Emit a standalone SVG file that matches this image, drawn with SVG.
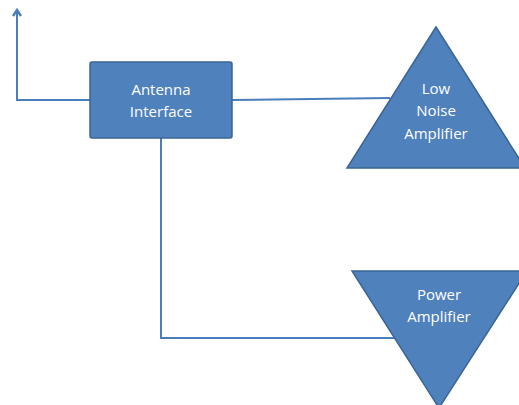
<svg xmlns="http://www.w3.org/2000/svg" width="519" height="405" viewBox="0 0 519 405">
<style>
.shape{fill:#4F81BD;stroke:#3A6595;stroke-width:1.5}
.conn{fill:none;stroke:#4A7EBB;stroke-width:2}
.lbl{font-family:"Open Sans","Liberation Sans",sans-serif;font-size:15px;fill:#FFFFFF;text-anchor:middle}
</style>
<defs>
<marker id="arr" markerWidth="10" markerHeight="10" refX="5" refY="5" orient="auto" markerUnits="userSpaceOnUse">
<path d="M1,1 L7,5 L1,9" fill="none" stroke="#4A7EBB" stroke-width="2.5"/>
</marker>
</defs>
<rect width="519" height="405" fill="#FFFFFF"/>
<g id="connectors">
<path class="conn" d="M90,100 L17,100 L17,12" marker-end="url(#arr)"/>
<path class="conn" d="M232,100 L390,98"/>
<path class="conn" d="M161,138 L161,338 L396,338"/>
</g>
<g id="antenna">
<rect class="shape" x="90" y="62" width="142" height="76" rx="2"/>
<text class="lbl" x="161" y="95">Antenna</text>
<text class="lbl" x="161" y="117">Interface</text>
</g>
<g id="lna">
<polygon class="shape" points="436,27 347,168 525,168"/>
<text class="lbl" x="436" y="94">Low</text>
<text class="lbl" x="436" y="116">Noise</text>
<text class="lbl" x="436" y="139">Amplifier</text>
</g>
<g id="pa">
<polygon class="shape" points="352,271 527,271 439,408"/>
<text class="lbl" x="439" y="300">Power</text>
<text class="lbl" x="439" y="322">Amplifier</text>
</g>
</svg>
